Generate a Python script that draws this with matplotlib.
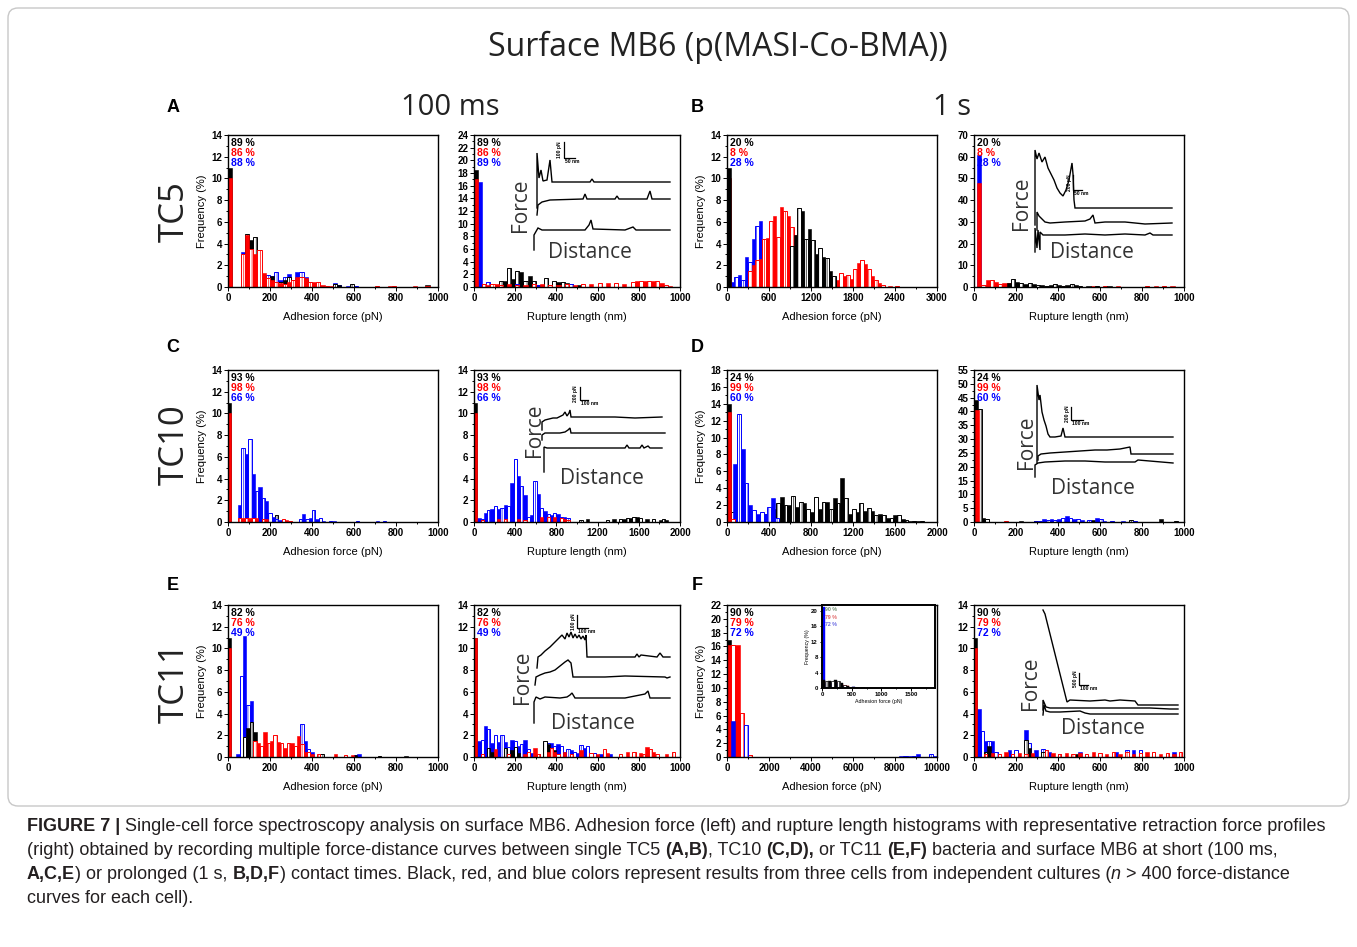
import matplotlib
matplotlib.use("Agg")
import matplotlib.pyplot as plt
from matplotlib.patches import FancyBboxPatch
from matplotlib.ticker import MultipleLocator

plt.rcParams.update({
    "font.family": ["Liberation Sans", "DejaVu Sans"],
    "font.weight": "bold",
    "hatch.linewidth": 0.5,
    "axes.linewidth": 1.0,
})

W, H = 1357, 947
K, R, B = "#000000", "#ff0000", "#0000ff"
BIG = ["Open Sans", "DejaVu Sans"]

# ── histogram data: (bin left edges, frequency %) ────────────────────────────
# A: TC5, 100 ms
A_FORCE_BIN = 20
A_FORCE_K = ([0, 80, 100, 120, 140, 160, 200, 240, 260, 280, 300, 340, 360, 380, 400, 500, 520, 580, 940],
             [11, 4.9, 4.3, 4.6, 2.0, 0.8, 1.0, 0.5, 0.6, 0.9, 0.3, 0.9, 0.6, 0.5, 0.3, 0.3, 0.2, 0.3, 0.2])
A_FORCE_R = ([0, 60, 80, 100, 120, 140, 160, 180, 200, 220, 240, 260, 280, 300, 320, 340, 360, 380, 400, 420,
              440, 460, 480, 700, 760, 780, 880, 940],
             [10, 3.0, 4.8, 3.5, 3.0, 3.4, 1.3, 0.8, 0.6, 0.5, 0.4, 0.3, 0.5, 0.6, 0.9, 0.9, 0.8, 0.5, 0.5, 0.5,
              0.2, 0.1, 0.1, 0.1, 0.1, 0.1, 0.1, 0.1])
A_FORCE_B = ([60, 80, 100, 120, 140, 180, 200, 220, 240, 260, 280, 300, 320, 340, 360, 380, 400, 420, 500, 520, 560, 600],
             [3.2, 3.5, 3.3, 2.0, 1.2, 1.1, 1.0, 1.4, 0.6, 0.9, 1.2, 0.5, 1.4, 1.4, 0.9, 0.5, 0.3, 0.2, 0.4, 0.2, 0.1, 0.1])
A_RUPT_BIN = 20
A_RUPT_K = ([0, 120, 140, 160, 180, 200, 220, 240, 260, 280, 300, 340, 360, 380, 400, 420, 440, 460, 500],
            [18.5, 1.0, 1.0, 3.0, 1.2, 2.5, 2.3, 1.0, 1.8, 1.0, 0.3, 1.4, 0.3, 1.0, 0.8, 0.8, 0.7, 0.4, 0.3])
A_RUPT_R = ([0, 40, 60, 80, 100, 120, 160, 200, 240, 280, 320, 360, 400, 440, 480, 520, 560, 600, 640, 680,
             720, 760, 780, 800, 820, 840, 860, 880, 900, 920, 940],
            [17, 0.5, 0.3, 0.5, 0.4, 0.3, 0.4, 0.3, 0.3, 0.4, 0.5, 0.3, 0.3, 0.4, 0.3, 0.4, 0.5, 0.6, 0.7, 0.6,
             0.5, 0.8, 1.0, 1.0, 1.0, 0.9, 1.0, 1.0, 0.7, 0.3, 0.2])
A_RUPT_B = ([20, 60, 100, 200, 300, 460, 520], [16.5, 0.8, 0.3, 0.5, 0.3, 0.5, 0.3])

# B: TC5, 1 s
B_FORCE_BIN = 50
B_FORCE_K = ([0, 900, 950, 1000, 1050, 1100, 1150, 1200, 1250, 1300, 1350, 1400, 1450, 1500],
             [11, 3.8, 4.8, 7.3, 7.0, 4.4, 5.3, 4.3, 3.0, 3.6, 2.8, 2.7, 1.5, 1.0])
B_FORCE_R = ([0, 300, 350, 400, 450, 500, 550, 600, 650, 700, 750, 800, 850, 900, 950, 1000, 1050, 1100, 1150, 1200,
              1250, 1300, 1350, 1400, 1450, 1500, 1550, 1600, 1650, 1700, 1750, 1800, 1850, 1900, 1950, 2000, 2050,
              2100, 2150, 2200, 2300, 2400],
             [10, 1.5, 2.0, 2.5, 2.6, 4.4, 4.5, 6.1, 6.5, 4.6, 7.4, 7.0, 6.5, 5.5, 4.8, 3.5, 3.1, 2.7, 1.9, 1.4,
              1.0, 0.6, 0.3, 0.3, 0.8, 0.9, 0.6, 1.3, 1.0, 1.1, 0.7, 1.7, 2.2, 2.5, 2.1, 1.7, 1.0,
              0.6, 0.4, 0.2, 0.1, 0.1])
B_FORCE_B = ([50, 100, 150, 200, 250, 300, 350, 400, 450, 1100, 1150],
             [0.5, 0.9, 1.1, 0.6, 2.8, 2.3, 4.4, 5.6, 6.1, 4.1, 3.4])
B_RUPT_BIN = 20
B_RUPT_K = ([155, 175, 195, 215, 235, 255, 275, 295, 315, 335, 355, 375, 395, 415, 435, 455, 475, 495, 535, 575, 635],
            [2.0, 3.5, 2.5, 2.0, 1.5, 2.0, 1.5, 1.0, 1.0, 0.5, 1.0, 1.5, 1.0, 0.5, 1.0, 1.5, 1.0, 0.5, 0.5, 0.3, 0.3])
B_RUPT_R = ([15, 35, 55, 75, 95, 115, 135, 155, 175, 195, 215, 255, 295, 355, 415, 475, 555, 615, 675, 815,
             855, 895, 935],
            [48, 1.0, 3.0, 3.0, 2.5, 1.5, 1.8, 2.0, 1.5, 1.0, 0.5, 0.5, 0.3, 0.5, 0.3, 0.5, 0.3, 0.3, 0.3, 0.5,
             0.5, 0.5, 0.3])
B_RUPT_B = ([15, 35, 55], [61, 1.0, 0.5])

# C: TC10, 100 ms
C_FORCE_BIN = 16
C_FORCE_K = ([0, 96, 112, 128, 144, 160, 208, 224], [11, 0.5, 1.5, 1.0, 0.3, 0.2, 0.3, 0.6])
C_FORCE_R = ([0, 48, 64, 80, 96, 112, 128, 160, 176, 256, 272, 288],
             [10, 0.4, 0.4, 0.4, 0.4, 0.4, 0.4, 0.3, 0.3, 0.3, 0.2, 0.1])
C_FORCE_B = ([48, 64, 80, 96, 112, 128, 144, 160, 176, 192, 208, 224, 240, 336, 352, 368, 384, 400, 416, 432,
              448, 480, 496, 608, 704, 736],
             [1.6, 6.8, 6.3, 7.6, 4.4, 2.9, 3.2, 2.2, 1.9, 0.8, 0.5, 0.3, 0.2, 0.3, 0.7, 0.3, 0.4, 1.1, 0.3, 0.4,
              0.1, 0.1, 0.1, 0.1, 0.1, 0.1])
C_RUPT_BIN = 32
C_RUPT_K = ([0, 1024, 1088, 1280, 1344, 1408, 1440, 1472, 1504, 1536, 1568, 1600, 1664, 1728, 1792, 1824, 1856],
            [11, 0.2, 0.3, 0.2, 0.3, 0.3, 0.3, 0.4, 0.4, 0.5, 0.5, 0.4, 0.3, 0.3, 0.2, 0.3, 0.2])
C_RUPT_R = ([0, 64, 224, 288, 416, 480, 640, 704, 768, 832, 864, 896],
            [10, 0.2, 0.3, 0.3, 0.3, 0.2, 0.5, 0.5, 0.5, 0.4, 0.3, 0.2])
C_RUPT_B = ([32, 64, 96, 128, 160, 192, 224, 256, 288, 320, 352, 384, 416, 448, 480, 512, 544, 576, 608, 640,
             672, 704, 736, 768, 800, 832, 864, 896],
            [0.4, 0.3, 0.8, 1.1, 1.2, 1.5, 1.2, 1.3, 1.6, 1.5, 3.6, 5.8, 4.2, 3.3, 2.5, 0.5, 0.6, 3.8, 2.6, 1.3,
             1.0, 0.7, 0.6, 0.8, 0.7, 0.5, 0.5, 0.4])

# D: TC10, 1 s
D_FORCE_BIN = 36
D_FORCE_K = ([0, 36, 72, 108, 144, 180, 216, 252, 288, 324, 360, 396, 432, 468, 504, 540, 576, 612, 648, 684,
              720, 756, 792, 828, 864, 900, 936, 972, 1008, 1044, 1080, 1116, 1152, 1188, 1224, 1260, 1296, 1332,
              1368, 1404, 1440, 1476, 1512, 1548, 1584, 1620, 1656, 1692, 1728, 1764, 1800, 1836],
             [14, 1.2, 0.3, 1.5, 1.0, 0.5, 0.4, 0.5, 0.5, 0.3, 0.9, 0.8, 1.5, 2.2, 3.0, 2.0, 2.0, 3.1, 1.8, 2.4,
              2.2, 1.5, 1.2, 3.0, 1.5, 2.4, 2.4, 1.5, 2.8, 2.2, 5.2, 2.8, 1.0, 1.5, 1.2, 2.2, 1.3, 1.6,
              1.3, 0.8, 1.0, 0.8, 0.5, 0.5, 0.8, 0.8, 0.3, 0.2, 0.1, 0.1, 0.1, 0.1])
D_FORCE_R = ([0, 36], [13, 0.3])
D_FORCE_B = ([60, 96, 132, 168, 204, 240, 276, 312, 348, 384, 420, 456],
             [6.9, 12.8, 8.7, 4.6, 2.0, 1.4, 0.9, 1.2, 1.0, 1.8, 2.8, 0.5])
D_RUPT_BIN = 18
D_RUPT_K = ([0, 18, 36, 54, 216, 288, 558, 738, 882, 954], [44, 41, 1.5, 1.0, 0.5, 0.3, 0.8, 0.8, 1.0, 0.5])
D_RUPT_R = ([4, 144], [40.5, 0.3])
D_RUPT_B = ([288, 306, 324, 342, 360, 378, 396, 414, 432, 450, 468, 486, 504, 540, 576, 594, 612, 648, 702, 756],
            [0.3, 0.5, 1.0, 0.8, 1.0, 0.8, 1.0, 1.5, 2.0, 1.5, 1.2, 1.0, 0.8, 0.8, 1.5, 1.0, 0.5, 0.5, 0.3, 0.3])

# E: TC11, 100 ms
E_FORCE_BIN = 16
E_FORCE_K = ([0, 72, 88, 104, 120, 136, 344, 440, 600, 712, 840], [11, 1.8, 2.7, 3.2, 2.3, 0.5, 0.8, 0.3, 0.2, 0.1, 0.1])
E_FORCE_R = ([0, 120, 136, 152, 168, 184, 200, 216, 232, 248, 264, 280, 296, 312, 328, 344, 360, 376, 392, 424,
              504, 552, 584],
             [10, 1.5, 1.3, 1.0, 2.3, 1.3, 1.5, 2.0, 1.4, 1.3, 0.8, 1.3, 1.3, 1.0, 1.9, 1.2, 0.5, 0.5, 0.3, 0.3,
              0.3, 0.2, 0.2])
E_FORCE_B = ([40, 56, 72, 88, 104, 120, 328, 344, 360, 376, 392, 600, 616],
             [0.3, 7.5, 11.1, 4.8, 5.2, 1.0, 0.5, 3.0, 1.5, 0.7, 0.5, 0.2, 0.3])
E_RUPT_BIN = 16
E_RUPT_K = ([0, 64, 80, 144, 176, 192, 208, 336, 352, 368, 384], [11, 0.8, 0.5, 0.8, 0.6, 0.9, 0.4, 1.5, 1.2, 0.8, 0.6])
E_RUPT_R = ([0, 32, 96, 160, 240, 256, 288, 304, 352, 368, 384, 400, 432, 464, 512, 560, 592, 624, 640, 704,
             736, 768, 800, 816, 832, 848, 864, 880, 928, 960],
            [11, 0.3, 0.7, 0.3, 0.3, 0.5, 0.8, 0.3, 0.5, 0.8, 0.5, 0.3, 0.5, 0.3, 0.6, 0.4, 0.3, 0.7, 0.4, 0.3,
             0.5, 0.5, 0.4, 0.3, 0.9, 0.7, 0.5, 0.3, 0.3, 0.5])
E_RUPT_B = ([16, 32, 48, 64, 80, 96, 112, 128, 144, 160, 176, 192, 208, 224, 240, 256, 272, 304, 336, 352,
             368, 384, 400, 416, 432, 448, 464, 480, 496, 512, 528, 544, 560, 576, 608, 640, 656],
            [1.5, 1.6, 2.9, 2.6, 1.3, 2.0, 1.4, 2.0, 1.4, 0.9, 1.6, 1.5, 1.0, 1.2, 1.6, 0.7, 0.4, 0.3, 1.3, 1.3,
             1.3, 1.0, 1.2, 1.0, 0.5, 0.7, 0.6, 0.5, 0.4, 1.1, 0.8, 1.0, 0.4, 0.4, 0.3, 0.3, 0.3])

# F: TC11, 1 s
F_FORCE_BIN = 200
F_FORCE_K = ([0, 400, 1000], [17, 4.0, 0.3])
F_FORCE_R = ([0, 200, 400, 600, 800, 1000], [16.2, 16.2, 16.2, 6.3, 1.0, 0.3])
F_FORCE_B = ([200, 800, 8200, 8400, 8600, 8800, 9000, 9600, 9800], [5.2, 4.6, 0.2, 0.2, 0.2, 0.2, 0.4, 0.4, 0.2])
F_ZOOM_BIN = 50
F_ZOOM_K = ([0, 50, 100, 150, 200, 250, 300, 350, 400, 450, 500, 550, 600, 650],
            [2.0, 1.8, 1.7, 1.9, 2.0, 1.8, 1.3, 0.8, 0.5, 0.3, 0.3, 0.2, 0.1, 0.2])
F_ZOOM_R = ([0, 50, 100, 150, 200, 250, 300, 350, 400], [1.5, 1.5, 1.3, 1.2, 1.3, 1.5, 1.1, 0.8, 0.4])
F_ZOOM_B = ([0, 50, 100, 150, 200, 250, 300, 350, 400, 450, 500, 600, 700],
            [21, 1.2, 1.0, 1.2, 1.4, 1.2, 0.8, 0.5, 0.3, 0.2, 0.2, 0.1, 0.1])
F_RUPT_BIN = 16
F_RUPT_K = ([0, 48, 64, 240, 256, 320, 480], [11, 0.5, 1.0, 1.6, 0.8, 0.5, 0.3])
F_RUPT_R = ([0, 48, 80, 112, 144, 176, 208, 240, 272, 336, 368, 400, 432, 464, 496, 528, 560, 592, 624, 656,
             688, 720, 752, 784, 816, 848, 880, 912, 944, 976],
            [10, 0.3, 0.4, 0.3, 0.5, 0.3, 0.4, 0.3, 0.4, 0.6, 0.4, 0.3, 0.4, 0.3, 0.4, 0.3, 0.5, 0.4, 0.3, 0.5,
             0.3, 0.5, 0.3, 0.4, 0.5, 0.5, 0.3, 0.4, 0.3, 0.5])
F_RUPT_B = ([16, 32, 48, 64, 80, 96, 160, 192, 240, 256, 288, 320, 352, 400, 496, 592, 672, 720, 752, 784, 944],
            [4.4, 2.4, 1.5, 1.5, 1.5, 0.5, 0.6, 0.6, 2.5, 1.3, 0.6, 0.7, 0.5, 0.3, 0.5, 0.3, 0.5, 0.6, 0.6, 0.6, 0.5])

# percentages of curves without adhesion (black, red, blue)
PCT_A = ["89 %", "86 %", "88 %"]
PCT_A_RUPT = ["89 %", "86 %", "89 %"]
PCT_B = ["20 %", "8 %", "28 %"]
PCT_C = ["93 %", "98 %", "66 %"]
PCT_D = ["24 %", "99 %", "60 %"]
PCT_E = ["82 %", "76 %", "49 %"]
PCT_F = ["90 %", "79 %", "72 %"]

# ── representative retraction curves (inset units, y up) ────────────────────
CURVES_A = [
    ([32, 32, 34, 36, 38, 42, 45, 47, 55, 85, 87, 89, 165], [52, 107, 82, 90, 79, 80, 100, 78, 78, 78, 81, 78, 78]),
    ([32, 33, 37, 45, 78, 80, 82, 110, 112, 114, 142, 145, 147, 165], [45, 55, 58, 60, 61, 66, 61, 61, 64, 61, 61, 69, 61, 61]),
    ([29, 29, 33, 37, 80, 84, 86, 88, 120, 128, 131, 165], [10, 25, 32, 30, 30, 35, 40, 31, 30, 33, 30, 30]),
]
CURVES_B = [
    ([30, 30, 32, 34, 37, 40, 43, 46, 49, 52, 55, 58, 61, 64, 67, 68, 69, 70, 167],
     [35, 110, 101, 107, 98, 103, 92, 86, 80, 72, 67, 64, 70, 80, 97, 86, 60, 52, 52]),
    ([32, 32, 34, 36, 40, 45, 60, 80, 85, 88, 90, 100, 120, 140, 167], [30, 48, 44, 42, 38, 37, 38, 39, 41, 45, 37, 38, 38, 36, 37]),
    ([30, 30, 32, 33, 35, 35, 38, 60, 80, 100, 120, 140, 145, 148, 167], [8, 32, 12, 30, 10, 28, 25, 25, 26, 25, 26, 25, 27, 25, 25]),
]
CURVES_C = [
    ([27, 27, 30, 34, 38, 42, 46, 48, 50, 52, 54, 55, 56, 60, 100, 120, 147], [60, 68, 70, 71, 72, 72, 74, 75, 78, 74, 77, 80, 73, 73, 73, 72, 73]),
    ([27, 27, 30, 35, 45, 50, 53, 55, 56, 80, 100, 150], [50, 55, 57, 57, 57, 58, 60, 62, 57, 57, 57, 57]),
    ([29, 29, 32, 60, 80, 110, 112, 114, 125, 127, 129, 133, 135, 147], [18, 43, 42, 42, 42, 42, 45, 42, 42, 45, 42, 44, 42, 42]),
]
CURVES_D = [
    ([32, 32, 34, 35, 37, 39, 41, 43, 45, 50, 56, 58, 60, 100, 168], [37, 115, 100, 105, 88, 80, 74, 66, 63, 63, 64, 72, 63, 63, 63]),
    ([33, 33, 36, 45, 60, 75, 90, 102, 115, 125, 126, 168], [40, 44, 46, 47, 48, 49, 50, 50, 51, 53, 46, 46]),
    ([30, 30, 33, 40, 60, 80, 100, 130, 133, 168], [23, 35, 37, 38, 39, 39, 38, 38, 40, 37]),
]
CURVES_E = [
    ([32, 33, 36, 40, 45, 50, 54, 57, 60, 62, 64, 66, 68, 70, 72, 74, 76, 78, 80, 81, 82, 130, 132, 134, 136, 152, 155, 158, 165],
     [67, 78, 80, 84, 88, 93, 97, 100, 96, 102, 98, 103, 97, 101, 97, 100, 96, 99, 95, 100, 78, 78, 81, 78, 80, 78, 82, 78, 78]),
    ([30, 31, 35, 40, 45, 50, 55, 60, 63, 66, 68, 70, 100, 120, 160, 162, 165], [50, 58, 60, 62, 63, 65, 69, 73, 75, 72, 58, 58, 58, 59, 58, 57, 58]),
    ([29, 29, 31, 35, 40, 55, 62, 65, 67, 70, 90, 120, 130, 140, 143, 145, 165], [12, 33, 38, 36, 38, 37, 38, 40, 42, 37, 37, 37, 39, 41, 44, 37, 37]),
]
CURVES_F = [
    ([33, 35, 57, 60, 80, 95, 100, 110, 125, 128, 168], [125, 121, 33, 35, 34, 35, 34, 35, 34, 30, 30]),
    ([33, 33, 36, 40, 60, 100, 140, 160, 168], [25, 35, 28, 27, 27, 27, 27, 26, 26]),
    ([33, 34, 36, 40, 50, 70, 75, 80, 168], [20, 30, 24, 23, 23, 24, 22, 21, 21]),
]

CAPTION = [
    [("FIGURE 7 |", "b"), (" ", ""), ("Single-cell force spectroscopy analysis on surface MB6. Adhesion force (left) and "
                                      "rupture length histograms with representative retraction force profiles", "r")],
    [("(right) obtained by recording multiple force-distance curves between single TC5", "r"), (" ", ""),
     ("(A,B)", "b"), (", TC10", "r"), (" ", ""), ("(C,D),", "b"), (" ", ""), ("or TC11", "r"), (" ", ""),
     ("(E,F)", "b"), (" ", ""), ("bacteria and surface MB6 at short (100 ms,", "r")],
    [("A,C,E", "b"), (") or prolonged (1 s,", "r"), (" ", ""), ("B,D,F", "b"),
     (") contact times. Black, red, and blue colors represent results from three cells from independent cultures (", "r"),
     ("n", "i"), (" ", ""), ("> 400 force-distance", "r")],
    [("curves for each cell).", "r")],
]


def px_axes(fig, left, top, right, bottom):
    return fig.add_axes([left / W, 1 - bottom / H, (right - left) / W, (bottom - top) / H])


def draw_hist(ax, series, width, lw=0.7):
    for (edges, heights), color in series:
        ax.bar(edges[0::2], heights[0::2], width, align="edge", color=color, edgecolor=color, linewidth=lw * 0.6)
        ax.bar(edges[1::2], heights[1::2], width, align="edge", facecolor="white", edgecolor=color,
               hatch="||||", linewidth=lw)


def style_axes(ax, xlim, xt, ylim, yt, xlabel, ylabel, size=7.0, label_size=8.0):
    ax.set_xlim(0, xlim)
    ax.set_ylim(0, ylim)
    ax.xaxis.set_major_locator(MultipleLocator(xt))
    ax.xaxis.set_minor_locator(MultipleLocator(xt / 2))
    ax.yaxis.set_major_locator(MultipleLocator(yt))
    ax.yaxis.set_minor_locator(MultipleLocator(yt / 2))
    ax.tick_params(which="both", direction="out", top=False, right=False, labelsize=size, pad=1.2, width=0.7)
    ax.tick_params(which="major", length=2.8)
    ax.tick_params(which="minor", length=1.5)
    ax.set_xlabel(xlabel, fontsize=label_size, labelpad=7 if size > 5 else 1.5)
    if ylabel:
        ax.set_ylabel("Frequency (%)", fontsize=label_size, labelpad=3 if size > 5 else 0.5)


def pct_labels(ax, labels, height_px, size=7.5):
    for i, (lab, color) in enumerate(zip(labels, [K, R, B])):
        ax.text(0.015, 1 - (8 + 10 * i) / height_px, lab, transform=ax.transAxes, color=color,
                fontsize=size, va="center", ha="left")


def force_inset(fig, rect, curves, force_xy, dist_xy, bar, bar_labels):
    left, top, w, h = rect
    ia = px_axes(fig, left, top, left + w, top + h)
    ia.set_xlim(0, w)
    ia.set_ylim(0, h)
    ia.axis("off")
    for xs, ys in curves:
        ia.plot(xs, ys, color="black", lw=1.0, solid_joinstyle="miter")
    ia.text(*force_xy, "Force", rotation=90, family=BIG, fontweight="normal", fontsize=15,
            color="#333333", ha="center", va="center")
    ia.text(*dist_xy, "Distance", family=BIG, fontweight="normal", fontsize=15,
            color="#333333", ha="center", va="center")
    bx, by, vl, hl = bar
    ia.plot([bx, bx, bx + hl], [by + vl, by, by], color="black", lw=0.9)
    ia.text(bx - 1.5, by + vl / 2, bar_labels[0], rotation=90, fontsize=3.6, ha="right", va="center")
    ia.text(bx + 1, by - 1, bar_labels[1], fontsize=3.6, ha="left", va="top")


fig = plt.figure(figsize=(W / 100, H / 100), dpi=100)
ov = fig.add_axes([0, 0, 1, 1])
ov.set_xlim(0, W)
ov.set_ylim(H, 0)
ov.axis("off")

ov.add_patch(FancyBboxPatch((8, 8), 1341, 798, boxstyle="round,pad=0,rounding_size=10",
                            facecolor="none", edgecolor="#c8c8c8", lw=1.0))

ov.text(718, 47, "Surface MB6 (p(MASI-Co-BMA))", family=BIG, fontweight="normal", fontsize=23,
        ha="center", va="center", color="#222222")
ov.text(450, 107, "100 ms", family=BIG, fontweight="normal", fontsize=21, ha="center", va="center", color="#222222")
ov.text(952, 107, "1 s", family=BIG, fontweight="normal", fontsize=21, ha="center", va="center", color="#222222")
for lab, x, y in [("A", 173, 107), ("B", 697, 107), ("C", 173, 347), ("D", 697, 347), ("E", 173, 585), ("F", 697, 585)]:
    ov.text(x, y, lab, fontsize=13, ha="center", va="center")
for lab, y in [("TC5", 212), ("TC10", 445), ("TC11", 683)]:
    ov.text(175, y, lab, family=BIG, fontweight="normal", fontsize=25, rotation=90, ha="center", va="center",
            color="#222222")

COLS = [(228, 438), (474, 680), (728, 938), (974, 1184)]
ROWS = [(135, 287), (370, 522), (605, 757)]
FORCE_LAB = "Adhesion force (pN)"
RUPT_LAB = "Rupture length (nm)"

panels = [
    # row, col, series (draw order), bin, xlim, xtick, ylim, ytick, xlabel, pct
    (0, 0, [(A_FORCE_B, B), (A_FORCE_K, K), (A_FORCE_R, R)], A_FORCE_BIN, 1000, 200, 14, 2, FORCE_LAB, PCT_A),
    (0, 1, [(A_RUPT_K, K), (A_RUPT_B, B), (A_RUPT_R, R)], A_RUPT_BIN, 1000, 200, 24, 2, RUPT_LAB, PCT_A_RUPT),
    (0, 2, [(B_FORCE_B, B), (B_FORCE_R, R), (B_FORCE_K, K)], B_FORCE_BIN, 3000, 600, 14, 2, FORCE_LAB, PCT_B),
    (0, 3, [(B_RUPT_B, B), (B_RUPT_R, R), (B_RUPT_K, K)], B_RUPT_BIN, 1000, 200, 70, 10, RUPT_LAB, PCT_B),
    (1, 0, [(C_FORCE_K, K), (C_FORCE_B, B), (C_FORCE_R, R)], C_FORCE_BIN, 1000, 200, 14, 2, FORCE_LAB, PCT_C),
    (1, 1, [(C_RUPT_K, K), (C_RUPT_B, B), (C_RUPT_R, R)], C_RUPT_BIN, 2000, 400, 14, 2, RUPT_LAB, PCT_C),
    (1, 2, [(D_FORCE_K, K), (D_FORCE_B, B), (D_FORCE_R, R)], D_FORCE_BIN, 2000, 400, 18, 2, FORCE_LAB, PCT_D),
    (1, 3, [(D_RUPT_K, K), (D_RUPT_B, B), (D_RUPT_R, R)], D_RUPT_BIN, 1000, 200, 55, 5, RUPT_LAB, PCT_D),
    (2, 0, [(E_FORCE_B, B), (E_FORCE_K, K), (E_FORCE_R, R)], E_FORCE_BIN, 1000, 200, 14, 2, FORCE_LAB, PCT_E),
    (2, 1, [(E_RUPT_B, B), (E_RUPT_K, K), (E_RUPT_R, R)], E_RUPT_BIN, 1000, 200, 14, 2, RUPT_LAB, PCT_E),
    (2, 2, [(F_FORCE_K, K), (F_FORCE_R, R), (F_FORCE_B, B)], F_FORCE_BIN, 10000, 2000, 22, 2, FORCE_LAB, PCT_F),
    (2, 3, [(F_RUPT_B, B), (F_RUPT_K, K), (F_RUPT_R, R)], F_RUPT_BIN, 1000, 200, 14, 2, RUPT_LAB, PCT_F),
]

for row, col, series, width, xlim, xt, ylim, yt, xlabel, pct in panels:
    top, bottom = ROWS[row]
    left, right = COLS[col]
    if col == 2:
        left, right = left - 1, right - 1
    ax = px_axes(fig, left, top, right, bottom)
    draw_hist(ax, series, width)
    style_axes(ax, xlim, xt, ylim, yt, xlabel, col % 2 == 0)
    pct_labels(ax, pct, bottom - top)

# zoomed inset of panel F (adhesion force)
za = px_axes(fig, 822, 605, 935, 688)
draw_hist(za, [(F_ZOOM_R, R), (F_ZOOM_B, B), (F_ZOOM_K, K)], F_ZOOM_BIN, lw=0.5)
style_axes(za, 1900, 500, 21.5, 4, FORCE_LAB, True, size=4.3, label_size=3.8)
za.tick_params(which="major", length=1.8)
za.tick_params(which="minor", length=1.0)
for s in za.spines.values():
    s.set_linewidth(1.4)
for i, (lab, color) in enumerate(zip(PCT_F, ["#6a8a6a", "#e06060", "#6060e0"])):
    za.text(0.03, 0.97 - 0.09 * i, lab, transform=za.transAxes, color=color, fontsize=3.8, va="top")

force_inset(fig, (505, 135, 175, 125), CURVES_A, (15, 55), (85, 7), (59, 102, 16, 11), ("100 pN", "50 nm"))
force_inset(fig, (1005, 135, 180, 125), CURVES_B, (17, 57), (87, 7), (68, 70, 15, 9), ("200 pN", "50 nm"))
force_inset(fig, (515, 370, 165, 120), CURVES_C, (20, 60), (87, 12), (65, 90, 13, 8), ("200 pN", "100 nm"))
force_inset(fig, (1005, 370, 180, 130), CURVES_D, (22, 58), (88, 12), (66, 80, 13, 12), ("200 pN", "100 nm"))
force_inset(fig, (505, 605, 175, 130), CURVES_E, (17, 58), (88, 12), (72, 107, 13, 11), ("100 pN", "100 nm"))
force_inset(fig, (1010, 605, 175, 130), CURVES_F, (20, 52), (93, 7), (69, 50, 12, 9), ("500 pN", "100 nm"))

# ── caption with mixed bold / italic runs ───────────────────────────────────
renderer = fig.canvas.get_renderer()
CAP_KW = dict(fontsize=13, color="#231f20", va="center", ha="left")


def run_width(s, style):
    t = ov.text(0, 0, s, fontweight="bold" if style == "b" else "normal",
                fontstyle="italic" if style == "i" else "normal", **CAP_KW)
    w = t.get_window_extent(renderer).width
    t.remove()
    return w


space = run_width("a a", "r") - run_width("aa", "r")
for line_no, parts in enumerate(CAPTION):
    x = 27
    y = 826 + 24 * line_no
    for s, style in parts:
        if s == " ":
            x += space
            continue
        t = ov.text(x, y, s, fontweight="bold" if style == "b" else "normal",
                    fontstyle="italic" if style == "i" else "normal", **CAP_KW)
        x += t.get_window_extent(renderer).width

fig.savefig("out.png", dpi=100)
